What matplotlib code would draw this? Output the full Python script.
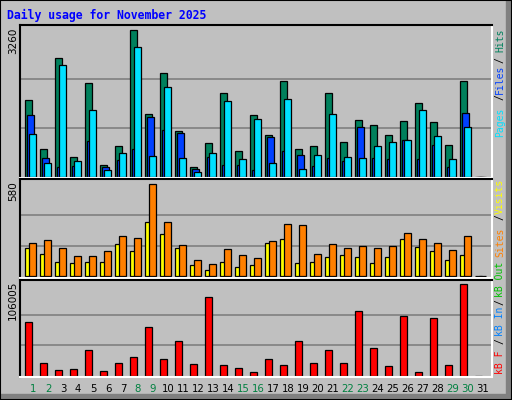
import matplotlib
matplotlib.use("Agg")
import matplotlib.pyplot as plt
from matplotlib.patches import Rectangle

days = list(range(1, 32))
hits  = [1693,606,2624,436,2070,251,673,3260,1382,2292,1005,207,739,1848,562,1360,
         917,2114,606,673,1848,761,1249,1138,917,1227,1626,1205,695,2114,0]
files = [1360,407,214,237,791,214,370,614,1323,1035,961,163,429,259,259,148,
         872,562,473,237,407,340,1094,407,384,806,384,695,207,1404,0]
pages = [939,296,2469,340,1471,140,517,2868,451,1981,407,96,517,1671,384,1271,
         296,1715,163,473,1382,429,407,673,761,806,1471,894,384,1094,0]
visits = [176,139,88,82,88,88,202,158,340,265,176,69,38,88,57,69,
          208,233,82,88,120,132,120,82,120,233,183,158,101,132,0]
sites  = [208,227,176,126,126,158,252,240,580,340,195,101,76,170,132,113,
          221,328,321,139,202,176,189,176,189,271,233,208,164,252,0]
kbf = [62286,14312,6190,7351,29403,5030,14312,21276,56482,18955,40228,13151,90894,11990,8511,3869,
       18955,11990,40228,14312,29403,14312,74642,31724,10833,68838,3869,66517,11990,106005,0]

W, H = 512, 400
fig = plt.figure(figsize=(W/100, H/100), dpi=100)
fig.patch.set_facecolor("#c0c0c0")

def fx(px): return px / W
def fy(py): return 1 - py / H

fig.patches.append(Rectangle((fx(W-6), 0), fx(6), 1, transform=fig.transFigure, color="#808080", zorder=0))
fig.patches.append(Rectangle((0, 0), 1, 6/H, transform=fig.transFigure, color="#808080", zorder=0))
fig.patches.append(Rectangle((0, 0), 1, 1, transform=fig.transFigure, fill=False, ec="#000000", lw=1.5, zorder=1))

X0, X1 = 20, 492
def xd(px): return 1 + (px - 25) / 15

def make_ax(top, bot, base, hpx, vmax):
    ax = fig.add_axes([fx(X0), fy(bot), fx(X1 - X0), (bot - top) / H])
    ax.set_facecolor("#c0c0c0")
    ax.set_xlim(xd(X0), xd(X1))
    ax.set_ylim((base - bot) / hpx * vmax, (base - top) / hpx * vmax)
    for g in (vmax / 3, 2 * vmax / 3):
        ax.axhline(g, color="#808080", lw=1.2, zorder=0)
    ax.set_xticks([]); ax.set_yticks([])
    ax.spines["top"].set_color("black"); ax.spines["left"].set_color("black")
    ax.spines["bottom"].set_color("white"); ax.spines["right"].set_color("white")
    for s in ax.spines.values():
        s.set_linewidth(1.5)
    return ax

bw = 7.3 / 15
kw = dict(align="edge", width=bw, edgecolor="black", linewidth=0.9)

ax1 = make_ax(25, 178, 176.7, 147, 3260)
ax1.bar(days, hits, color="#00805c", **kw)
ax1.bar([d + 2/15 for d in days], files, color="#0040ff", **kw)
ax1.bar([d + 4/15 for d in days], pages, color="#00e0ff", **kw)

ax2 = make_ax(179, 278, 276.3, 92, 580)
ax2.bar(days, visits, color="#ffff00", **kw)
ax2.bar([d + 4/15 for d in days], sites, color="#ff8000", **kw)

ax3 = make_ax(280, 377, 375.7, 91.3, 106005)
ax3.bar(days, kbf, color="#ff0000", **kw)

fig.text(fx(7), fy(15), "Daily usage for November 2025", color="#0000ff",
         family="DejaVu Sans Mono", weight="bold", fontsize=8.3, va="center", ha="left")

for txt, py in (("3260", 28), ("580", 181), ("106005", 281)):
    fig.text(fx(13), fy(py), txt, rotation=90, ha="center", va="top",
             fontsize=7.5, color="black")

mono = dict(family="DejaVu Sans Mono", fontsize=7.0, rotation=90, ha="center", va="center")
legend = [("Hits", 40, "#00805c"), ("/", 60, "#000000"), ("Files", 79, "#0040ff"),
          ("/", 97, "#000000"), ("Pages", 122, "#00e0ff"),
          ("Visits", 196, "#ffff00"), ("/", 217, "#000000"), ("Sites", 242, "#ff8000"),
          ("kB Out", 279, "#00c000"), ("/", 302, "#000000"), ("kB In", 321, "#0080ff"),
          ("/", 341, "#000000"), ("kB F", 362, "#ff0000")]
for txt, py, c in legend:
    fig.text(fx(500), fy(py), txt, color=c, **mono)

weekend = {1, 2, 8, 9, 15, 16, 22, 23, 29, 30}
for d in days:
    fig.text(fx(33 + 15 * (d - 1)), fy(389), str(d), ha="center", va="center",
             fontsize=7.3, color="#008040" if d in weekend else "black")

fig.savefig("out.png", dpi=100, facecolor=fig.get_facecolor())
